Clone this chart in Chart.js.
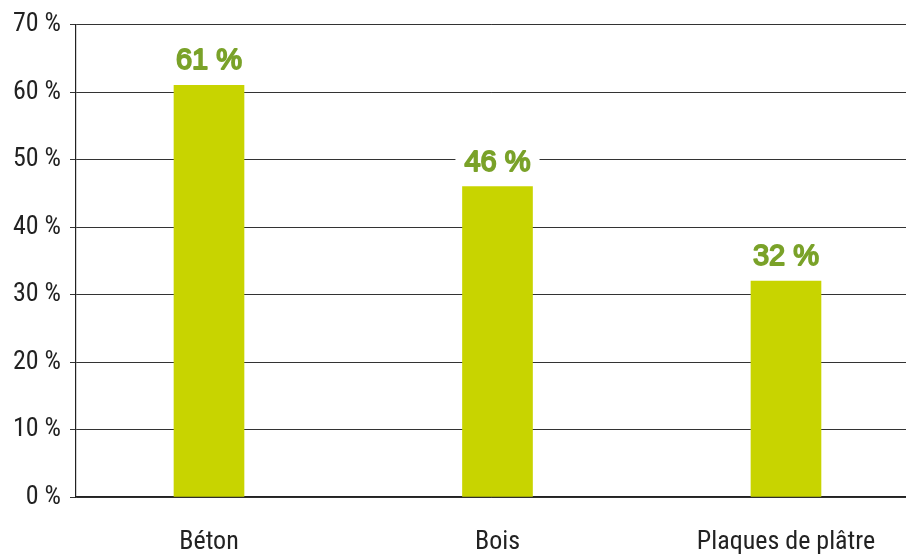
<!DOCTYPE html>
<html>
<head>
<meta charset="utf-8">
<script src="https://cdn.jsdelivr.net/npm/chart.js@4/dist/chart.umd.min.js"></script>
<style>
  html, body { margin: 0; padding: 0; background: #fff; overflow: hidden; }
  #wrap { width: 906px; height: 554px; position: relative; }
</style>
</head>
<body>
<div id="wrap"><canvas id="myChart" width="906" height="554"></canvas></div>
<script>
const categories = ['Béton', 'Bois', 'Plaques de plâtre'];
const values = [61, 46, 32];
const yTicks = [0, 10, 20, 30, 40, 50, 60, 70];

const barColor = '#c8d400';
const labelColor = '#7aa229';
const inkColor = '#222222';

Chart.defaults.font.family = "'Liberation Sans Narrow', 'Roboto Condensed', 'Liberation Sans', sans-serif";

// value labels with a white box, drawn last so they sit over the gridlines
const valueLabels = {
    id: 'valueLabels',
    afterDraw: (chart) => {
        const ctx = chart.ctx;
        const meta = chart.getDatasetMeta(0);
        ctx.save();
        ctx.font = "29px 'Liberation Sans Narrow', 'Liberation Sans', sans-serif";
        ctx.textAlign = 'center';
        ctx.textBaseline = 'alphabetic';
        ctx.lineJoin = 'round';
        meta.data.forEach(function (bar, i) {
            const text = values[i] + ' %';
            const w = ctx.measureText(text).width;
            const base = bar.y - 16;
            ctx.fillStyle = '#ffffff';
            ctx.fillRect(bar.x - w / 2 - 9, base - 26, w + 18, 30);
            ctx.fillStyle = labelColor;
            ctx.strokeStyle = labelColor;
            ctx.lineWidth = 1.8;
            ctx.fillText(text, bar.x, base);
            ctx.strokeText(text, bar.x, base);
        });
        ctx.restore();
    }
};

const ctx = document.getElementById('myChart').getContext('2d');
const myChart = new Chart(ctx, {
    type: 'bar',
    data: {
        datasets: [{
            data: values.map((v, i) => ({ x: i, y: v })),
            backgroundColor: barColor,
            barThickness: 70
        }]
    },
    options: {
        responsive: false,
        animation: false,
        layout: { padding: { top: 10, right: 0, left: 0, bottom: 0 } },
        scales: {
            x: {
                type: 'linear',
                offset: false,
                min: -0.461,
                max: 2.416,
                afterBuildTicks: (s) => { s.ticks = categories.map((c, i) => ({ value: i })); },
                afterFit: (s) => { s.height = 57; },
                grid: { display: false, offset: false },
                border: { display: true, color: inkColor, width: 1.2 },
                ticks: {
                    callback: (v) => categories[v],
                    color: inkColor,
                    font: { size: 26 },
                    padding: 22,
                    maxRotation: 0,
                    autoSkip: false
                }
            },
            y: {
                min: 0,
                max: 70,
                z: 1,
                afterBuildTicks: (s) => { s.ticks = yTicks.map(v => ({ value: v })); },
                afterFit: (s) => { s.width = 76; },
                grid: { color: '#333333', lineWidth: 1, tickLength: 6 },
                border: { display: true, color: inkColor, width: 1.2 },
                ticks: {
                    callback: (v) => v + ' %',
                    color: inkColor,
                    font: { size: 26 },
                    padding: 9
                }
            }
        },
        plugins: {
            legend: { display: false },
            tooltip: { enabled: false }
        }
    },
    plugins: [valueLabels]
});
</script>
</body>
</html>
